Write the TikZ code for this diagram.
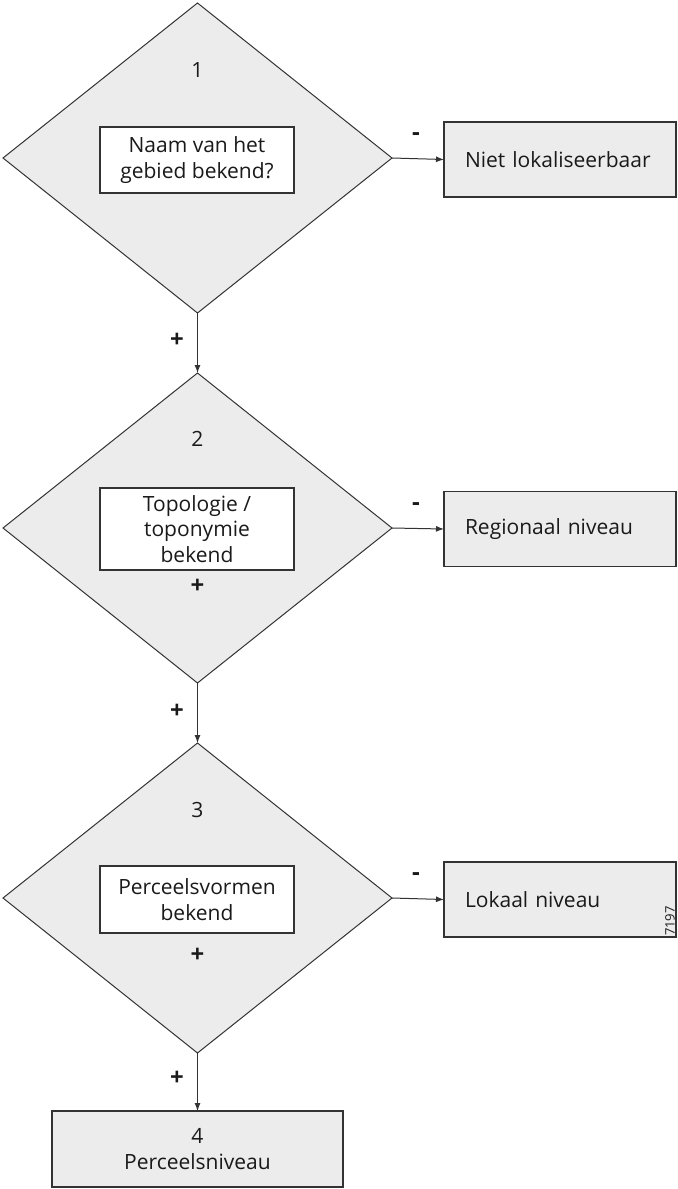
\documentclass[tikz,border=0pt]{standalone}
\usepackage{fontspec}
\setmainfont{Open Sans}
\usetikzlibrary{shapes.geometric,arrows.meta}

\definecolor{vlak}{HTML}{ECECEC}
\definecolor{lijn}{HTML}{333333}
\definecolor{tekst}{HTML}{1A1A1A}

\tikzset{
    beslis/.style={draw=lijn, fill=vlak, diamond, inner sep=0pt, outer sep=0pt,
        minimum width=194.5pt, minimum height=155pt, line width=0.5pt},
    vraag/.style={draw=lijn, fill=white, rectangle, inner sep=0pt, outer sep=0pt,
        minimum width=97pt, align=center, line width=0.6pt},
    uitkomst/.style={draw=lijn, fill=vlak, rectangle, outer sep=0pt, line width=0.6pt,
        minimum height=37.5pt, text width=95pt, inner xsep=10.5pt, align=left},
    pijl/.style={draw=lijn, line width=0.5pt, -{Latex[length=4pt,width=3pt]}},
    teken/.style={font=\fontsize{12}{12}\selectfont\bfseries}
}

\begin{document}
\begin{tikzpicture}[x=0.5pt, y=-0.5pt, text=tekst,
    font=\fontsize{10.5}{12.8}\selectfont]
    \useasboundingbox (0,0) rectangle (677,1189);

    % beslisruiten
    \node[beslis] (d1) at (197.5, 158) {};
    \node[beslis] (d2) at (197.5, 528) {};
    \node[beslis] (d3) at (197.5, 898) {};

    % nummers
    \node (n1) at (197.5, 70) {1};
    \node (n2) at (197.5, 439) {2};
    \node (n3) at (197.5, 810) {3};

    % vragen
    \node[vraag, minimum height=33pt] (v1) at (197, 160) {Naam van het\\gebied bekend?};
    \node[vraag, minimum height=41pt] (v2) at (197, 529) {Topologie /\\toponymie\\bekend};
    \node[vraag, minimum height=33.5pt] (v3) at (197, 899.5) {Perceelsvormen\\bekend};
    \node[teken] (p2) at (197.5, 586) {+};
    \node[teken] (p3) at (197.5, 955) {+};

    % uitkomsten
    \node[uitkomst] (u1) at (560, 159.5) {Niet lokaliseerbaar};
    \node[uitkomst] (u2) at (560, 529) {Regionaal niveau};
    \node[uitkomst] (u3) at (560, 899.5) {Lokaal niveau};
    \node[draw=lijn, fill=vlak, rectangle, outer sep=0pt, line width=0.6pt,
        minimum width=145.5pt, minimum height=38pt, align=center] (u4)
        at (197.5, 1149) {4\\Perceelsniveau};
    \node[rotate=90, font=\fontsize{6.5}{7}\selectfont, inner sep=0pt] (nr) at (670, 921) {7197};

    % verbindingen
    \draw[pijl] (d1.east) -- (u1.west);
    \draw[pijl] (d2.east) -- (u2.west);
    \draw[pijl] (d3.east) -- (u3.west);
    \draw[pijl] (d1.south) -- (d2.north);
    \draw[pijl] (d2.south) -- (d3.north);
    \draw[pijl] (d3.south) -- (u4.north);

    % tekens bij de pijlen
    \node[teken] (m1) at (416, 137) {-};
    \node[teken] (m2) at (416, 507) {-};
    \node[teken] (m3) at (416, 877) {-};
    \node[teken] (j1) at (177, 340) {+};
    \node[teken] (j2) at (177, 711) {+};
    \node[teken] (j3) at (177, 1078) {+};

\end{tikzpicture}
\end{document}
